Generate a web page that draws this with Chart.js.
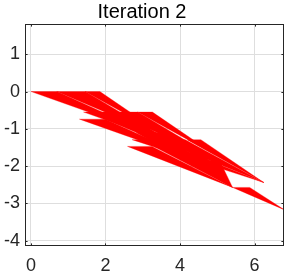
<!DOCTYPE html>
<html>
<head>
<meta charset="utf-8">
<script src="https://cdn.jsdelivr.net/npm/chart.js@4.4.1/dist/chart.umd.min.js"></script>
<style>
    html, body { margin: 0; padding: 0; background: #fff; }
    #wrap { width: 288px; height: 276px; }
</style>
</head>
<body>
<div id="wrap"><canvas id="chart" width="288" height="276"></canvas></div>
<script>
// tick labels
var xTicks = [0, 2, 4, 6];
var yTicks = [-4, -3, -2, -1, 0, 1];

// triangles: left corner, right corner (same height), tip
var triLeftX  = [0.00, 0.69, 1.45, 1.41, 2.10, 2.86, 1.30, 1.99, 2.75, 2.71, 3.43, 4.19, 2.82, 4.12, 2.59, 3.30, 4.05, 5.41];
var triTopY   = [0.00, 0.00, 0.00, -0.55, -0.55, -0.55, -0.74, -0.74, -0.74, -1.29, -1.29, -1.29, -1.10, -1.84, -1.47, -1.47, -1.47, -2.57];
var triRightX = [0.70, 1.46, 1.85, 2.11, 2.87, 3.26, 2.00, 2.76, 3.15, 3.38, 4.14, 4.56, 3.76, 5.06, 3.25, 4.00, 4.44, 5.87];
var triTipX   = [3.24, 3.40, 3.54, 4.65, 4.81, 4.95, 4.54, 4.70, 4.84, 6.25, 6.25, 6.25, 4.12, 5.41, 5.41, 5.41, 5.41, 6.80];
var triTipY   = [-1.15, -1.15, -1.15, -1.70, -1.70, -1.70, -1.89, -1.89, -1.89, -2.44, -2.44, -2.44, -1.84, -2.57, -2.57, -2.57, -2.57, -3.17];

var axisColor = '#262626';
var gridColor = '#dedede';
var fontFamily = '"Liberation Sans", Arial, Helvetica, sans-serif';

var datasets = [];
for (var i = 0; i < triLeftX.length; i++) {
    datasets.push({
        data: [
            {x: triLeftX[i], y: triTopY[i]},
            {x: triRightX[i], y: triTopY[i]},
            {x: triTipX[i], y: triTipY[i]},
            {x: triLeftX[i], y: triTopY[i]}
        ],
        showLine: true,
        fill: 'shape',
        borderColor: '#ff0000',
        backgroundColor: '#ff0000',
        borderWidth: 0.3,
        pointRadius: 0,
        tension: 0
    });
}

// box round the axes with inward ticks, like the original
var boxPlugin = {
    id: 'box',
    afterDatasetsDraw: function(chart) {
        var ctx = chart.ctx;
        var a = chart.chartArea;
        var sx = chart.scales.x, sy = chart.scales.y;
        var len = 2.6;
        ctx.save();
        ctx.strokeStyle = axisColor;
        ctx.lineWidth = 1;
        ctx.beginPath();
        xTicks.forEach(function(v) {
            var px = Math.round(sx.getPixelForValue(v)) + 0.5;
            ctx.moveTo(px, a.bottom); ctx.lineTo(px, a.bottom - len);
            ctx.moveTo(px, a.top); ctx.lineTo(px, a.top + len);
        });
        yTicks.forEach(function(v) {
            var py = Math.round(sy.getPixelForValue(v)) + 0.5;
            ctx.moveTo(a.left, py); ctx.lineTo(a.left + len, py);
            ctx.moveTo(a.right, py); ctx.lineTo(a.right - len, py);
        });
        ctx.stroke();
        ctx.strokeRect(Math.round(a.left) + 0.5, Math.round(a.top) + 0.5,
            Math.round(a.right - a.left) - 1, Math.round(a.bottom - a.top) - 1);
        ctx.restore();
    }
};

var ctx = document.getElementById('chart').getContext('2d');
var chart = new Chart(ctx, {
    type: 'scatter',
    data: { datasets: datasets },
    options: {
        responsive: false,
        animation: false,
        devicePixelRatio: 1,
        layout: { padding: { left: 0, right: 4, top: 0, bottom: 0 } },
        plugins: {
            legend: { display: false },
            tooltip: { enabled: false },
            title: {
                display: true,
                text: 'Iteration 2',
                color: '#000',
                font: { family: fontFamily, size: 20, weight: 'normal', lineHeight: 1.2 },
                padding: { top: 0, bottom: 0 }
            }
        },
        scales: {
            x: {
                type: 'linear',
                min: -0.16,
                max: 6.79,
                afterBuildTicks: function(s) { s.ticks = xTicks.map(function(v) { return {value: v}; }); },
                afterFit: function(s) { s.height = 30; },
                grid: { color: gridColor, drawTicks: false },
                border: { display: false },
                ticks: { padding: 9, color: axisColor, font: { family: fontFamily, size: 18 }, maxRotation: 0 }
            },
            y: {
                type: 'linear',
                min: -4.14,
                max: 1.81,
                afterBuildTicks: function(s) { s.ticks = yTicks.map(function(v) { return {value: v}; }); },
                afterFit: function(s) { s.width = 25; },
                grid: { color: gridColor, drawTicks: false },
                border: { display: false },
                ticks: { padding: 5, color: axisColor, font: { family: fontFamily, size: 18 } }
            }
        }
    },
    plugins: [boxPlugin]
});
</script>
</body>
</html>
